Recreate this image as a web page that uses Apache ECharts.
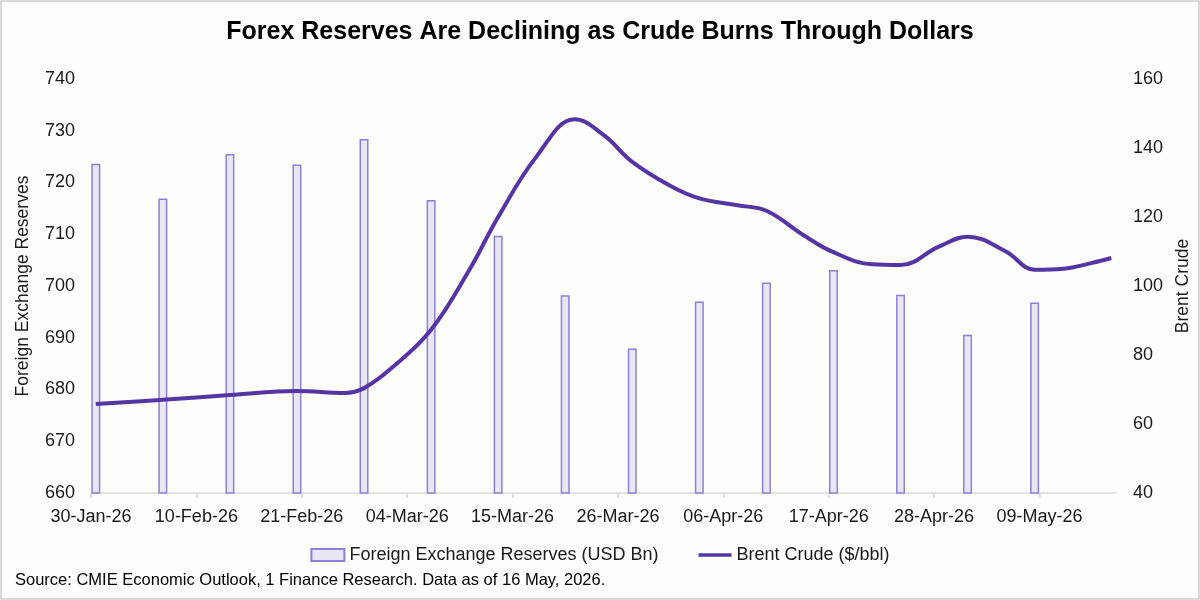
<!DOCTYPE html>
<html>
<head>
<meta charset="utf-8">
<script src="https://cdn.jsdelivr.net/npm/echarts@6/dist/echarts.min.js"></script>
<style>html,body{margin:0;padding:0;background:#fdfdfb;}#c{width:1200px;height:600px;}</style>
</head>
<body>
<div id="c"></div>
<script>
// ---- data ----
const baseDate = '2026-01-30';
const tickLabels = ['30-Jan-26','10-Feb-26','21-Feb-26','04-Mar-26','15-Mar-26','26-Mar-26','06-Apr-26','17-Apr-26','28-Apr-26','09-May-26'];
const tickStepDays = 11;
const reserveDates = ['2026-01-30','2026-02-06','2026-02-13','2026-02-20','2026-02-27','2026-03-06','2026-03-13','2026-03-20','2026-03-27','2026-04-03','2026-04-10','2026-04-17','2026-04-24','2026-05-01','2026-05-08'];
const reserveValues = [723.6, 716.9, 725.5, 723.5, 728.4, 716.6, 709.7, 698.2, 687.9, 697.0, 700.7, 703.1, 698.3, 690.6, 696.8];
const brentDates = ['2026-01-30','2026-02-06','2026-02-13','2026-02-20','2026-02-25','2026-02-27','2026-03-02','2026-03-06','2026-03-10','2026-03-13','2026-03-17','2026-03-21','2026-03-24','2026-03-27','2026-03-31','2026-04-03','2026-04-07','2026-04-10','2026-04-14','2026-04-17','2026-04-21','2026-04-24','2026-04-28','2026-05-01','2026-05-05','2026-05-08','2026-05-11','2026-05-14','2026-05-16'];
const brentValues = [65.8, 67.0, 68.4, 69.6, 69.0, 70.4, 76.5, 87.3, 104.7, 120.0, 137.5, 148.3, 143.8, 136.0, 129.0, 125.4, 123.4, 121.8, 114.5, 109.8, 106.3, 106.1, 111.4, 114.3, 110.0, 104.7, 105.0, 106.7, 108.1];
const seriesNames = ['Foreign Exchange Reserves (USD Bn)', 'Brent Crude ($/bbl)'];

// ---- helpers ----
function dayOffset(s) {
  const p = s.split('-').map(Number), b = baseDate.split('-').map(Number);
  return (Date.UTC(p[0], p[1]-1, p[2]) - Date.UTC(b[0], b[1]-1, b[2])) / 86400000 + 0.5;
}
const tickValues = tickLabels.map((_, i) => i * tickStepDays);
const barData = reserveDates.map((d, i) => [dayOffset(d), reserveValues[i]]);
const lineData = brentDates.map((d, i) => [dayOffset(d), brentValues[i]]);

const txt = '#1a1a1a';
const font = 'Liberation Sans, Arial, sans-serif';
const chart = echarts.init(document.getElementById('c'));
chart.setOption({
  backgroundColor: '#fdfdfb',
  animation: false,
  title: {
    text: 'Forex Reserves Are Declining as Crude Burns Through Dollars',
    left: 'center', top: 15,
    textStyle: { fontFamily: font, fontSize: 25, fontWeight: 'bold', color: '#000' }
  },
  graphic: [
    { type: 'rect', shape: { x: 1, y: 1, width: 1198, height: 598 }, style: { fill: 'none', stroke: '#d9d9d9', lineWidth: 2 }, silent: true },
    { type: 'text', left: 15, top: 572, style: { text: 'Source: CMIE Economic Outlook, 1 Finance Research. Data as of 16 May, 2026.', font: '16.5px "Liberation Sans", Arial, sans-serif', fill: '#000' } }
  ],
  legend: {
    left: 'center', top: 541,
    itemWidth: 33, itemHeight: 12, itemGap: 40,
    textStyle: { fontFamily: font, fontSize: 18, color: txt },
    data: [
      { name: seriesNames[0], icon: 'rect' },
      { name: seriesNames[1], icon: 'path://M0,0 L38,0 L38,4 L0,4 Z', itemStyle: { color: '#5535a3', borderWidth: 0 } }
    ]
  },
  grid: { left: 91, right: 80, top: 79, bottom: 107, containLabel: false },
  xAxis: {
    type: 'value', min: 0, max: 107,
    splitLine: { show: false },
    axisLine: { show: true, lineStyle: { color: '#d9d9d9', width: 1.5 } },
    axisTick: { show: true, length: 5, lineStyle: { color: '#d9d9d9', width: 1.5 }, customValues: tickValues },
    axisLabel: {
      customValues: tickValues, margin: 15,
      fontFamily: font, fontSize: 18, color: txt,
      formatter: v => tickLabels[Math.round(v / tickStepDays)] || ''
    }
  },
  yAxis: [
    {
      type: 'value', min: 660, max: 740, interval: 10,
      name: 'Foreign Exchange Reserves', nameLocation: 'middle', nameGap: 59,
      nameTextStyle: { fontFamily: font, fontSize: 17.5, color: txt },
      splitLine: { show: false }, axisLine: { show: false }, axisTick: { show: false },
      axisLabel: { margin: 16, fontFamily: font, fontSize: 18, color: txt }
    },
    {
      type: 'value', min: 40, max: 160, interval: 20, position: 'right',
      name: 'Brent Crude', nameLocation: 'middle', nameGap: 56,
      nameTextStyle: { fontFamily: font, fontSize: 17.5, color: txt },
      splitLine: { show: false }, axisLine: { show: false }, axisTick: { show: false },
      axisLabel: { margin: 17, fontFamily: font, fontSize: 18, color: txt }
    }
  ],
  series: [
    {
      name: seriesNames[0], type: 'bar', yAxisIndex: 0, barWidth: 9,
      itemStyle: { color: '#e9e7f6', borderColor: '#8c80d9', borderWidth: 1.5 },
      data: barData
    },
    {
      name: seriesNames[1], type: 'line', yAxisIndex: 1, smooth: 0.4,
      symbol: 'none', showSymbol: false,
      lineStyle: { color: '#5535a3', width: 4 },
      itemStyle: { color: '#5535a3' },
      data: lineData
    }
  ]
});
</script>
</body>
</html>
